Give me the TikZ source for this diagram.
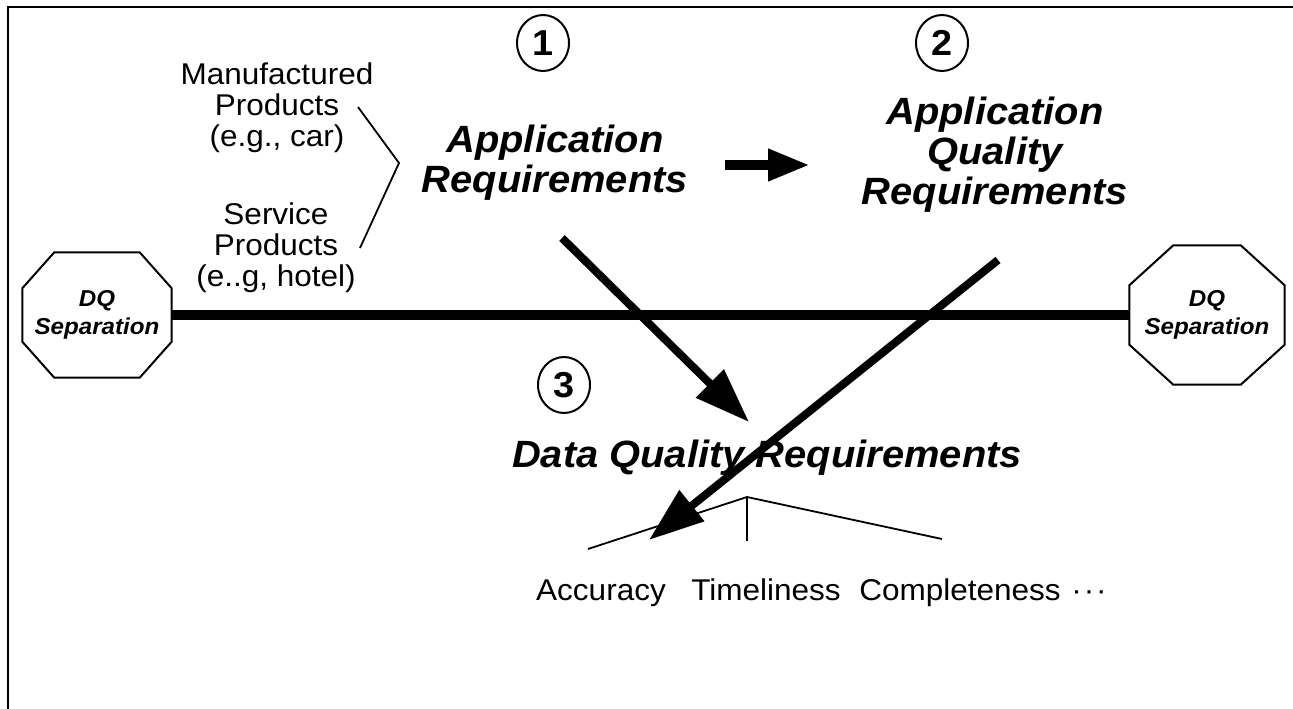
\documentclass[tikz,border=0pt]{standalone}
\usepackage{fontspec}
\setmainfont{Liberation Sans}[FakeStretch=1.05]
\usetikzlibrary{arrows.meta,shapes.geometric}

% octagon drawn round a node: node, chamfer x, chamfer y
\newcommand{\octagonaround}[3]{%
  \draw[line width=2pt] ([xshift=#2]#1.north west) -- ([xshift=-#2]#1.north east)
    -- ([yshift=-#3]#1.north east) -- ([yshift=#3]#1.south east)
    -- ([xshift=-#2]#1.south east) -- ([xshift=#2]#1.south west)
    -- ([yshift=#3]#1.south west) -- ([yshift=-#3]#1.north west) -- cycle;}

\begin{document}
\begin{tikzpicture}[x=1pt,y=-1pt,
    plain/.style={align=center,font=\fontsize{30}{31}\selectfont},
    dimension/.style={plain,anchor=base},
    heading/.style={align=center,font=\fontsize{38}{40}\selectfont\bfseries\itshape},
    stopsign/.style={inner sep=0pt,align=center,font=\fontsize{23}{28}\selectfont\bfseries\itshape},
    num/.style={draw,ellipse,line width=2pt,minimum width=52pt,minimum height=56pt,
      inner sep=0pt,font=\fontsize{36}{36}\selectfont\bfseries},
    bigarrow/.style={line width=8pt,-{Triangle[length=55pt,width=38pt]}},
    thin/.style={line width=1.8pt}]

      \useasboundingbox (0,0) rectangle (1293,709);
      \clip (0,0) rectangle (1293,709);
      \draw[line width=2.5pt] (8,7) rectangle (1320,740);

      % products
      \node[plain] (manu) at (277,108) {Manufactured\\Products\\(e.g., car)};
      \node[plain] (serv) at (276,248) {Service\\Products\\(e..g, hotel)};
      \coordinate (brk) at (399,163);
      \draw[thin] (358,107) -- (brk) -- (360,248);

      % separation
      \node[stopsign,minimum width=149pt,minimum height=125pt] (sepl) at (97,315) {DQ\\Separation};
      \node[stopsign,minimum width=155pt,minimum height=139pt] (sepr) at (1207,315) {DQ\\Separation};
      \octagonaround{sepl}{32pt}{36pt}
      \octagonaround{sepr}{44pt}{40pt}
      \draw[line width=10pt] (sepl.east) -- (sepr.west);

      % steps
      \node[num] (n1) at (543,43) {1};
      \node[num] (n2) at (942,43) {2};
      \node[num] (n3) at (564,385) {3};
      \node[heading] (app) at (555,163) {Application\\Requirements};
      \node[heading] (aqr) at (995,155) {Application\\Quality\\Requirements};
      \node[heading] (dqr) at (767,458) {Data Quality Requirements};

      \coordinate (hfrom) at (725,165);
      \coordinate (hto) at (810,165);
      \draw[line width=10pt,-{Triangle[length=42pt,width=30pt]}] (hfrom) -- (hto);

      % dimensions
      \node[dimension] (acc) at (601,600) {Accuracy};
      \node[dimension] (tim) at (766,600) {Timeliness};
      \node[dimension] (com) at (960,600) {Completeness};
      \node[dimension] (more) at (1089,600) {·\hspace{2pt}·\hspace{2pt}·};
      \coordinate (apex) at (747,497);
      \coordinate (accend) at (588,549);
      \coordinate (timend) at (747,541);
      \coordinate (comend) at (942,539);
      \draw[thin] (accend) -- (apex) -- (comend);
      \draw[thin] (apex) -- (timend);

      \coordinate (afrom) at (562,238);
      \coordinate (ato) at (749,422);
      \coordinate (qfrom) at (998,260);
      \coordinate (qto) at (649,540);
      \draw[bigarrow] (afrom) -- (ato);
      \draw[bigarrow] (qfrom) -- (qto);
  \end{tikzpicture}
\end{document}
